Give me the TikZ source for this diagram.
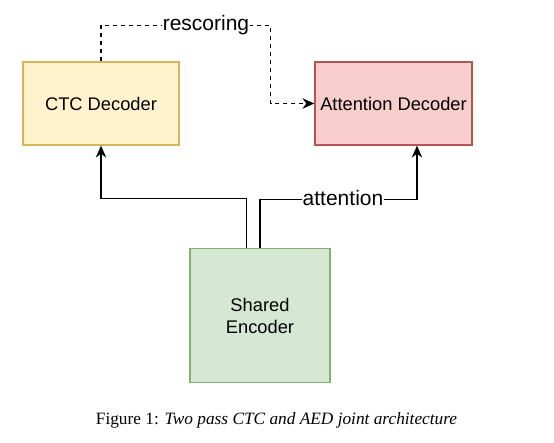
\documentclass[tikz,border=0pt]{standalone}
\usepackage{fontspec}
\setmainfont{Liberation Sans}
\newfontfamily\capfont{Liberation Serif}
\usetikzlibrary{arrows.meta,calc}
\definecolor{ctcfill}{HTML}{FFF2CC}
\definecolor{ctcline}{HTML}{D6B656}
\definecolor{attfill}{HTML}{F8CECC}
\definecolor{attline}{HTML}{B85450}
\definecolor{encfill}{HTML}{D5E8D4}
\definecolor{encline}{HTML}{82B366}
\tikzset{
  box/.style={draw, line width=1.3pt, inner sep=0pt, align=center, font=\fontsize{18.3}{22}\selectfont},
  arr/.style={line width=1.3pt, -{Stealth[length=12pt,width=10.5pt,inset=4pt]}},
  elabel/.style={fill=white, inner sep=1pt, font=\fontsize{21}{24}\selectfont}
}
\begin{document}
\begin{tikzpicture}[x=1pt,y=-1pt]
\useasboundingbox (0,0) rectangle (554,443);
\node[box, fill=ctcfill, draw=ctcline, minimum width=156pt, minimum height=83pt] (ctc) at (101,103.5) {CTC Decoder};
\node[box, fill=attfill, draw=attline, minimum width=157pt, minimum height=83pt] (att) at (393.5,103.5) {Attention Decoder};
\node[box, fill=encfill, draw=encline, minimum width=140pt, minimum height=134pt] (enc) at (260,315.5) {Shared\\Encoder};
% rescoring
\coordinate (r2) at (270.5,25.5);
\draw[arr, dash pattern=on 4pt off 4pt] (ctc.north) |- (r2) |- (att.west);
\node[elabel] (lres) at (206,25) {rescoring};
% encoder to CTC
\draw[arr] ([xshift=-13.3pt]enc.north) |- ([yshift=-53pt]ctc.south) -- (ctc.south);
% encoder to attention
\draw[arr] (enc.north) |- ([xshift=23.5pt,yshift=-54pt]att.south) -- ([xshift=23.5pt]att.south);
\node[elabel] (latt) at (343,198) {attention};
% caption
\node[font=\capfont\fontsize{17.3}{20}\selectfont, inner sep=0pt] (cap) at (276.5,420) {Figure 1: \textit{Two pass CTC and AED joint architecture}};
\end{tikzpicture}
\end{document}
